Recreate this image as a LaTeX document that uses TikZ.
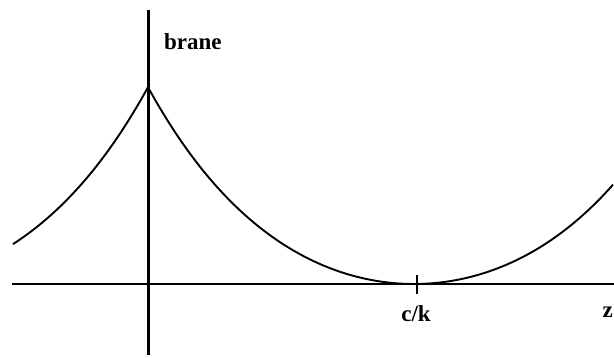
\documentclass[tikz,border=0pt]{standalone}
\usepackage{fontspec}
\setmainfont{Liberation Serif}
\begin{document}
\begin{tikzpicture}[x=1pt,y=1pt,
  axisline/.style={line width=2pt,black},
  braneline/.style={line width=3pt,black},
  curveline/.style={line width=1.9pt,black},
  lbl/.style={font=\fontsize{23}{25}\selectfont\bfseries,inner sep=0pt}]
\useasboundingbox (0,0) rectangle (614,358);
\coordinate (hl) at (12,74);
\coordinate (hr) at (614,74);
\coordinate (vt) at (148,348);
\coordinate (vb) at (148,3);
\coordinate (tt) at (417,83);
\coordinate (tb) at (417,64);
\draw[axisline] (hl) -- (hr);
\draw[braneline] (vt) -- (vb);
\draw[axisline,line width=1.6pt] (tt) -- (tb);
% warp factor curve
\draw[curveline,line join=round] plot[domain=13:148,samples=120]
  (\x,{74+105.7*(0.5*(exp(0.00644*(\x+118))+exp(-0.00644*(\x+118)))-1)});
\draw[curveline,line join=round] plot[domain=148:613,samples=240]
  (\x,{74+105.7*(0.5*(exp(0.00644*(\x-414))+exp(-0.00644*(\x-414)))-1)});
\node[lbl,anchor=base west] (brane) at (164,308) {brane};
\node[lbl,anchor=base] (ck) at (416,36) {c/k};
\node[lbl,anchor=base east] (z) at (613,40) {z};
\end{tikzpicture}
\end{document}
